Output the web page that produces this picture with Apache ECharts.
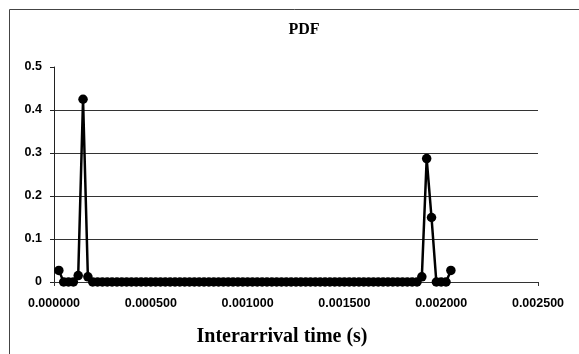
<!DOCTYPE html>
<html>
<head>
<meta charset="utf-8">
<script src="https://cdn.jsdelivr.net/npm/echarts@6/dist/echarts.min.js"></script>
<style>
html,body{margin:0;padding:0;background:#fff;}
#chart{width:579px;height:354px;}
</style>
</head>
<body>
<div id="chart"></div>
<script>
// Interarrival time bins (s)
var times = [
  0.000025, 0.00005, 0.000075, 0.0001, 0.000125, 0.00015, 0.000175, 0.0002, 0.000225, 0.00025,
  0.000275, 0.0003, 0.000325, 0.00035, 0.000375, 0.0004, 0.000425, 0.00045, 0.000475, 0.0005,
  0.000525, 0.00055, 0.000575, 0.0006, 0.000625, 0.00065, 0.000675, 0.0007, 0.000725, 0.00075,
  0.000775, 0.0008, 0.000825, 0.00085, 0.000875, 0.0009, 0.000925, 0.00095, 0.000975, 0.001,
  0.001025, 0.00105, 0.001075, 0.0011, 0.001125, 0.00115, 0.001175, 0.0012, 0.001225, 0.00125,
  0.001275, 0.0013, 0.001325, 0.00135, 0.001375, 0.0014, 0.001425, 0.00145, 0.001475, 0.0015,
  0.001525, 0.00155, 0.001575, 0.0016, 0.001625, 0.00165, 0.001675, 0.0017, 0.001725, 0.00175,
  0.001775, 0.0018, 0.001825, 0.00185, 0.001875, 0.0019, 0.001925, 0.00195, 0.001975, 0.002,
  0.002025, 0.00205
];
// PDF values
var pdf = [
  0.027, 0, 0, 0, 0.015, 0.425, 0.012, 0, 0, 0,
  0, 0, 0, 0, 0, 0, 0, 0, 0, 0,
  0, 0, 0, 0, 0, 0, 0, 0, 0, 0,
  0, 0, 0, 0, 0, 0, 0, 0, 0, 0,
  0, 0, 0, 0, 0, 0, 0, 0, 0, 0,
  0, 0, 0, 0, 0, 0, 0, 0, 0, 0,
  0, 0, 0, 0, 0, 0, 0, 0, 0, 0,
  0, 0, 0, 0, 0, 0.012, 0.287, 0.15, 0, 0,
  0, 0.027
];
var xTicks = [0, 0.0005, 0.001, 0.0015, 0.002, 0.0025];
var yTicks = [0, 0.1, 0.2, 0.3, 0.4, 0.5];

var data = times.map(function (t, i) { return [t, pdf[i]]; });

var chart = echarts.init(document.getElementById('chart'), null, {renderer: 'canvas'});
chart.setOption({
  animation: false,
  backgroundColor: '#fff',
  graphic: [{
    type: 'rect', left: 7, top: 7, z: -1,
    shape: {width: 600, height: 400},
    style: {fill: 'none', stroke: '#444', lineWidth: 1}
  }],
  title: {
    text: 'PDF', left: 299, top: 17, textAlign: 'center',
    textStyle: {fontFamily: 'Liberation Serif', fontWeight: 'bold', fontSize: 16, color: '#000'}
  },
  grid: {left: 54, right: 41, top: 67, bottom: 72, containLabel: false},
  xAxis: {
    type: 'value', min: xTicks[0], max: xTicks[xTicks.length - 1], interval: 0.0005,
    name: 'Interarrival time (s)', nameLocation: 'middle', nameGap: 45,
    nameTextStyle: {fontFamily: 'Liberation Serif', fontWeight: 'bold', fontSize: 20, color: '#000', padding: [0, 28, 0, 0]},
    axisLine: {show: true, onZero: false, lineStyle: {color: '#333', width: 1}},
    axisTick: {show: true, inside: false, length: 4, lineStyle: {color: '#333'}},
    splitLine: {show: false},
    axisLabel: {
      margin: 15, color: '#000', fontFamily: 'Liberation Sans', fontWeight: 'bold', fontSize: 12.5,
      formatter: function (v) { return v.toFixed(6); }
    }
  },
  yAxis: {
    type: 'value', min: yTicks[0], max: yTicks[yTicks.length - 1], interval: 0.1,
    axisLine: {show: true, lineStyle: {color: '#222', width: 1}},
    axisTick: {show: true, inside: false, length: 4, lineStyle: {color: '#222'}},
    splitLine: {show: true, showMinLine: false, showMaxLine: false, lineStyle: {color: '#333', width: 1}},
    axisLabel: {
      margin: 12, color: '#000', fontFamily: 'Liberation Sans', fontWeight: 'bold', fontSize: 12.5,
      formatter: function (v) { return v === 0 ? '0' : String(Math.round(v * 10) / 10); }
    }
  },
  series: [{
    type: 'line', data: data,
    symbol: 'circle', symbolSize: 9.5, showSymbol: true,
    lineStyle: {color: '#000', width: 2.5},
    itemStyle: {color: '#000', borderWidth: 0}
  }]
});
</script>
</body>
</html>
